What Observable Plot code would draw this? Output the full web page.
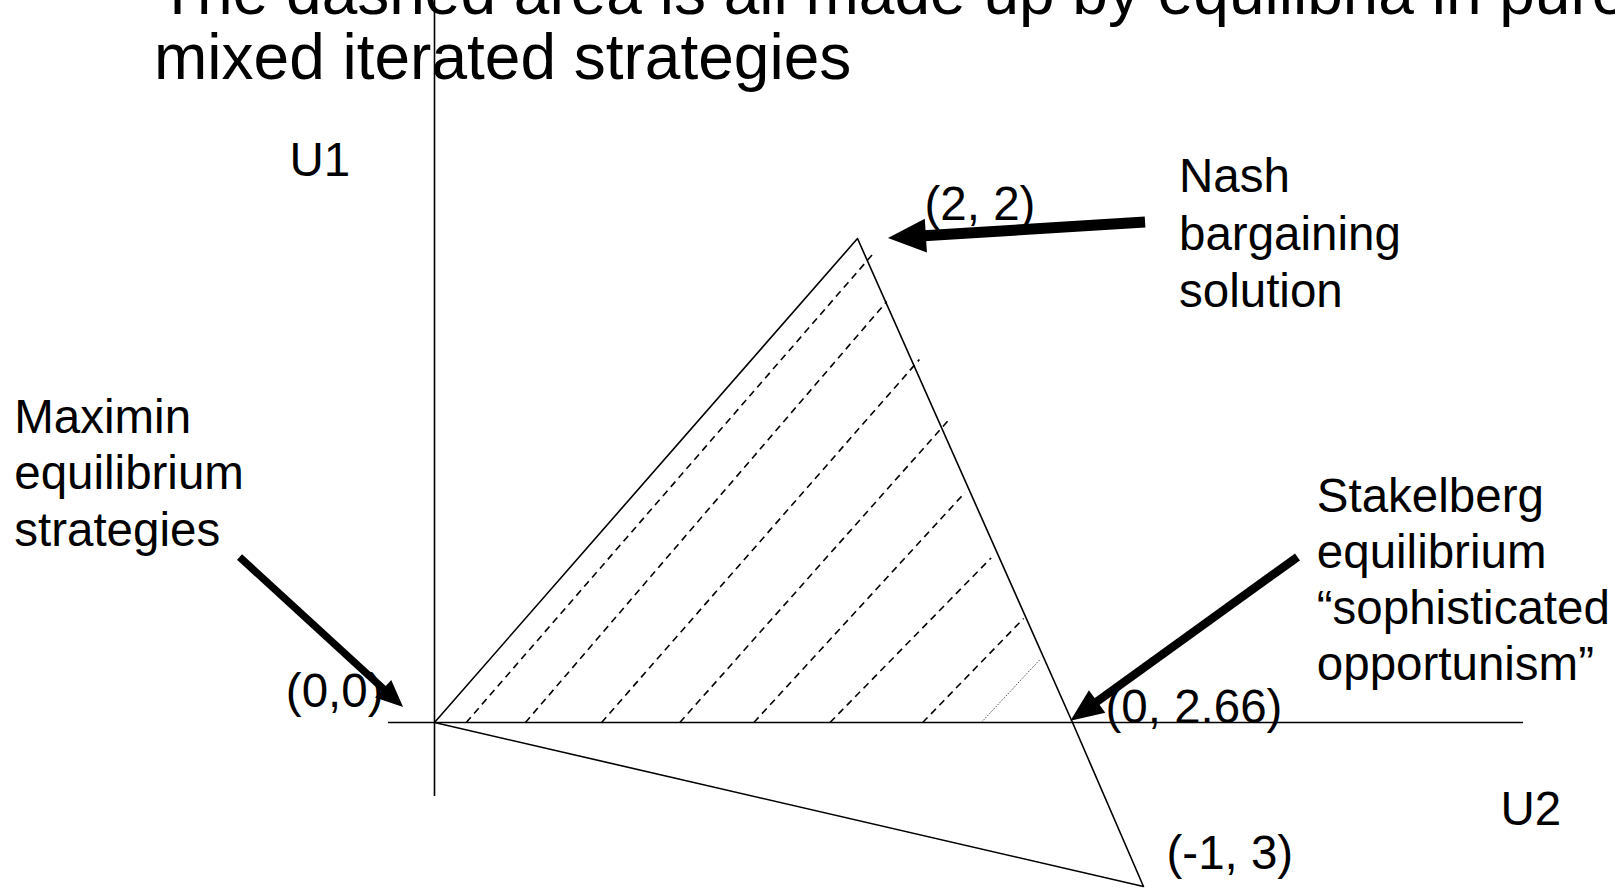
<!DOCTYPE html>
<html>
<head>
<meta charset="utf-8">
<script src="https://cdn.jsdelivr.net/npm/d3@7"></script>
<script src="https://cdn.jsdelivr.net/npm/@observablehq/plot@0.6"></script>
<style>
  html, body { margin: 0; padding: 0; background: #fff; overflow: hidden; }
  #slide { position: relative; width: 1615px; height: 888px; }
  #chart svg { display: block; }
  .title {
    position: absolute;
    font-family: "Liberation Sans", Arial, Helvetica, sans-serif;
    font-size: 64px;
    line-height: 65px;
    white-space: nowrap;
    color: #000;
    z-index: 1;
  }
</style>
</head>
<body>
<div id="slide">
  <div id="chart"></div>
  <div class="title" style="left:158px; top:-40px;">The dashed area is all made up by equilibria in pure and</div>
  <div class="title" style="left:154px; top:25px;">mixed iterated strategies</div>
</div>
<script>
// Payoff vertices of the feasible set, written as (U1, U2)
const vertexLabels = ["(0,0)", "(2, 2)", "(0, 2.66)", "(-1, 3)"];
const vertexU1 = [0, 2, 0, -1];
const vertexU2 = [0, 2, 2.66, 3];
// outline order: origin -> Nash point -> through (0, 2.66) -> (-1, 3) -> origin
const outlineOrder = [0, 1, 2, 3, 0];

// Hatching of the equilibrium region: each stroke starts on the U2 axis
// (U1 = 0) and runs up to the right-hand edge of the triangle
const hatchStartU2 = [0.15, 0.43, 0.79, 1.16, 1.51, 1.87, 2.2, 2.38];
const hatchEndU2 = [2.05, 2.09, 2.19, 2.28, 2.33, 2.41, 2.51, 2.56];
const hatchEndU1 = [1.94, 1.74, 1.5, 1.25, 0.95, 0.68, 0.43, 0.26];

// Callout notes and the arrows that point from them to the equilibria
const calloutText = [
  "Nash\nbargaining\nsolution",
  "Maximin\nequilibrium\nstrategies",
  "Stakelberg\nequilibrium\n\u201Csophisticated\nopportunism\u201D"
];
const calloutU2 = [3.17, -2.01, 3.83];
const calloutU1 = [1.715, 0.73, 0.174];
const arrowFromU2 = [3.01, -0.93, 3.74];
const arrowFromU1 = [2.066, 0.682, 0.682];
const arrowToU2 = [2.095, -0.148, 2.655];
const arrowToU1 = [2.0, 0.062, 0.005];

// Axis names
const axisNames = ["U1", "U2"];
const axisNameU2 = [-0.694, 4.71];
const axisNameU1 = [2.256, -0.628];

const font = "Liberation Sans, Arial, Helvetica, sans-serif";
const fontSize = 47.5;
const idx = (arr) => d3.range(arr.length);

// one text mark per vertex label, each nudged off its point
const vertexLabelOffsets = [
  {dx: -51, dy: -16, textAnchor: "end"},
  {dx: 67, dy: -19, textAnchor: "start"},
  {dx: 33, dy: 0, textAnchor: "start"},
  {dx: 23, dy: -18, textAnchor: "start"}
];
// line spacing of each callout block
const calloutLineHeight = [1.215, 1.19, 1.185];

const plot = Plot.plot({
  width: 1615,
  height: 888,
  marginLeft: 388,
  marginRight: 92,
  marginTop: 0,
  marginBottom: 92,
  style: {background: "transparent", overflow: "visible"},
  // U2 runs along the horizontal axis, U1 along the vertical one
  x: {type: "linear", domain: [-0.22, 0, 2, 2.66, 3, 4.82], range: [388, 434, 857, 1072, 1143, 1523], axis: null},
  y: {type: "linear", domain: [-1, 0, 2, 2.98], range: [886, 722, 238, 0], axis: null},
  marks: [
    // axes through the origin
    Plot.ruleX([0], {stroke: "#000", strokeWidth: 1.6}),
    Plot.ruleY([0], {stroke: "#000", strokeWidth: 1.6}),
    // hatch strokes (the last one is a faint dotted stroke)
    Plot.link(d3.range(hatchStartU2.length - 1), {
      x1: (i) => hatchStartU2[i], y1: () => 0,
      x2: (i) => hatchEndU2[i], y2: (i) => hatchEndU1[i],
      stroke: "#000", strokeWidth: 1.6, strokeDasharray: "7,5"
    }),
    Plot.link([hatchStartU2.length - 1], {
      x1: (i) => hatchStartU2[i], y1: () => 0,
      x2: (i) => hatchEndU2[i], y2: (i) => hatchEndU1[i],
      stroke: "#333", strokeWidth: 0.9, strokeDasharray: "1.5,1.5"
    }),
    // feasible payoff triangle
    Plot.line(outlineOrder, {
      x: (i) => vertexU2[i], y: (i) => vertexU1[i],
      stroke: "#000", strokeWidth: 1.6, curve: "linear"
    }),
    // vertex labels
    ...vertexLabels.map((_, k) => Plot.text([k], {
      x: (i) => vertexU2[i], y: (i) => vertexU1[i], text: (i) => vertexLabels[i],
      lineAnchor: "bottom", fontSize, fontFamily: font, fill: "#000",
      ...vertexLabelOffsets[k]
    })),
    // callout notes
    ...calloutText.map((_, k) => Plot.text([k], {
      x: (i) => calloutU2[i], y: (i) => calloutU1[i], text: (i) => calloutText[i],
      textAnchor: "start", lineAnchor: "bottom", lineHeight: calloutLineHeight[k],
      fontSize, fontFamily: font, fill: "#000"
    })),
    // axis names
    Plot.text(idx(axisNames), {
      x: (i) => axisNameU2[i], y: (i) => axisNameU1[i], text: (i) => axisNames[i],
      textAnchor: "start", lineAnchor: "bottom",
      fontSize, fontFamily: font, fill: "#000"
    })
  ]
});

document.getElementById("chart").appendChild(plot);

// Thick callout arrows with solid triangular heads, placed through the plot's scales
const sx = plot.scale("x"), sy = plot.scale("y");
const fx = sx.apply ? (v) => sx.apply(v) : d3.scaleLinear(sx.domain, sx.range);
const fy = sy.apply ? (v) => sy.apply(v) : d3.scaleLinear(sy.domain, sy.range);
const arrowStyle = [
  {shaft: 11, headLength: 38, headWidth: 34},
  {shaft: 7.5, headLength: 27, headWidth: 24},
  {shaft: 8.5, headLength: 33, headWidth: 28}
];
const arrows = d3.select(plot).append("g").attr("class", "callout-arrows");
arrowFromU2.forEach((_, i) => {
  const x1 = fx(arrowFromU2[i]), y1 = fy(arrowFromU1[i]);
  const x2 = fx(arrowToU2[i]), y2 = fy(arrowToU1[i]);
  const {shaft, headLength, headWidth} = arrowStyle[i];
  const len = Math.hypot(x2 - x1, y2 - y1);
  const ux = (x2 - x1) / len, uy = (y2 - y1) / len;
  const bx = x2 - ux * headLength, by = y2 - uy * headLength;
  arrows.append("line")
    .attr("x1", x1).attr("y1", y1)
    .attr("x2", bx + ux * 2).attr("y2", by + uy * 2)
    .attr("stroke", "#000").attr("stroke-width", shaft);
  arrows.append("polygon")
    .attr("points", [
      [x2, y2],
      [bx - uy * headWidth / 2, by + ux * headWidth / 2],
      [bx + uy * headWidth / 2, by - ux * headWidth / 2]
    ].map((p) => p.join(",")).join(" "))
    .attr("fill", "#000");
});
</script>
</body>
</html>
